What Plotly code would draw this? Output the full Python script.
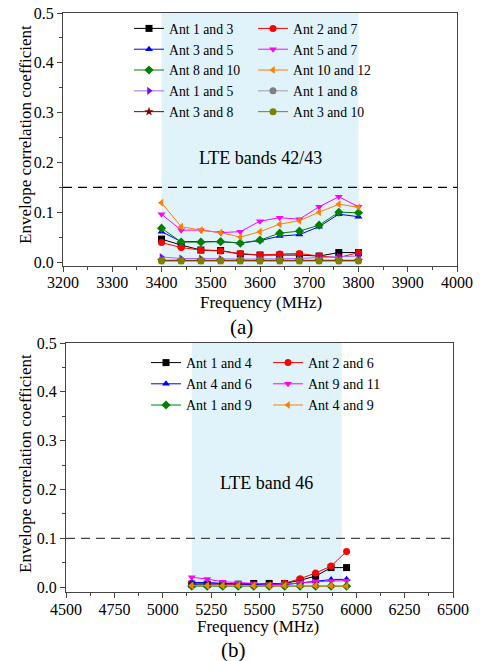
import plotly.graph_objects as go

# ---------------- data: panel (a) ----------------
freq_a = [3400, 3440, 3480, 3520, 3560, 3600, 3640, 3680, 3720, 3760, 3800]
ant_1_3 = [0.046, 0.034, 0.024, 0.023, 0.016, 0.014, 0.014, 0.014, 0.012, 0.019, 0.019]
ant_2_7 = [0.039, 0.029, 0.024, 0.022, 0.017, 0.014, 0.016, 0.017, 0.012, 0.009, 0.019]
ant_3_5 = [0.061, 0.041, 0.041, 0.041, 0.038, 0.043, 0.052, 0.055, 0.071, 0.096, 0.091]
ant_5_7 = [0.096, 0.064, 0.064, 0.059, 0.061, 0.082, 0.089, 0.086, 0.111, 0.131, 0.111]
ant_8_10 = [0.068, 0.040, 0.040, 0.041, 0.038, 0.044, 0.058, 0.062, 0.074, 0.100, 0.099]
ant_10_12 = [0.119, 0.071, 0.064, 0.059, 0.050, 0.061, 0.076, 0.083, 0.100, 0.116, 0.110]
ant_1_5 = [0.010, 0.007, 0.007, 0.006, 0.006, 0.006, 0.006, 0.007, 0.009, 0.011, 0.012]
ant_1_8 = [0.004, 0.004, 0.004, 0.004, 0.004, 0.004, 0.004, 0.004, 0.004, 0.004, 0.004]
ant_3_8 = [0.003, 0.003, 0.003, 0.003, 0.003, 0.003, 0.003, 0.003, 0.003, 0.003, 0.003]
ant_3_10 = [0.002, 0.002, 0.002, 0.002, 0.002, 0.002, 0.002, 0.002, 0.002, 0.002, 0.002]

# ---------------- data: panel (b) ----------------
freq_b = [5150, 5230, 5310, 5390, 5470, 5550, 5630, 5710, 5790, 5870, 5950]
ant_1_4 = [0.006, 0.006, 0.006, 0.006, 0.0075, 0.0075, 0.0075, 0.014, 0.0225, 0.040, 0.040]
ant_2_6 = [0.008, 0.007, 0.006, 0.005, 0.004, 0.004, 0.008, 0.017, 0.029, 0.043, 0.073]
ant_4_6 = [0.0095, 0.0095, 0.0075, 0.006, 0.005, 0.0045, 0.005, 0.009, 0.0115, 0.0155, 0.016]
ant_9_11 = [0.020, 0.0165, 0.011, 0.009, 0.0075, 0.006, 0.006, 0.009, 0.011, 0.0125, 0.013]
ant_1_9 = [0.002, 0.002, 0.002, 0.002, 0.002, 0.002, 0.002, 0.002, 0.002, 0.002, 0.002]
ant_4_9 = [0.003, 0.003, 0.003, 0.003, 0.003, 0.003, 0.003, 0.003, 0.003, 0.003, 0.002]

band_a = [3400, 3800]
band_b = [5150, 5925]
limit_a = 0.15
limit_b = 0.1

FONT = "Liberation Serif, Times New Roman, serif"

series_a = [
    ("Ant 1 and 3", ant_1_3, "#000000", "#000000", "square"),
    ("Ant 2 and 7", ant_2_7, "#ff0000", "#ff0000", "circle"),
    ("Ant 3 and 5", ant_3_5, "#0000ff", "#0000ff", "triangle-up"),
    ("Ant 5 and 7", ant_5_7, "#ff00ff", "#ff00ff", "triangle-down"),
    ("Ant 8 and 10", ant_8_10, "#008000", "#008000", "diamond"),
    ("Ant 10 and 12", ant_10_12, "#ff8000", "#ff8000", "triangle-left"),
    ("Ant 1 and 5", ant_1_5, "#a366ff", "#8000ff", "triangle-right"),
    ("Ant 1 and 8", ant_1_8, "#a0a0a0", "#808080", "circle"),
    ("Ant 3 and 8", ant_3_8, "#800000", "#800000", "star"),
    ("Ant 3 and 10", ant_3_10, "#808000", "#808000", "circle"),
]
series_b = [
    ("Ant 1 and 4", ant_1_4, "#000000", "#000000", "square"),
    ("Ant 2 and 6", ant_2_6, "#ff0000", "#ff0000", "circle"),
    ("Ant 4 and 6", ant_4_6, "#0000ff", "#0000ff", "triangle-up"),
    ("Ant 9 and 11", ant_9_11, "#ff00ff", "#ff00ff", "triangle-down"),
    ("Ant 1 and 9", ant_1_9, "#008000", "#008000", "diamond"),
    ("Ant 4 and 9", ant_4_9, "#ff8000", "#ff8000", "triangle-left"),
]

fig = go.Figure()
for i, (name, vals, lc, mc, sym) in enumerate(series_a):
    fig.add_trace(go.Scatter(x=freq_a, y=vals, name=name, mode="lines+markers",
                             line=dict(color=lc, width=1),
                             marker=dict(symbol=sym, size=7, color=mc),
                             xaxis="x", yaxis="y",
                             legend="legend" if i % 2 == 0 else "legend2"))
for i, (name, vals, lc, mc, sym) in enumerate(series_b):
    fig.add_trace(go.Scatter(x=freq_b, y=vals, name=name, mode="lines+markers",
                             line=dict(color=lc, width=1),
                             marker=dict(symbol=sym, size=7, color=mc),
                             xaxis="x2", yaxis="y2",
                             legend="legend3" if i % 2 == 0 else "legend4"))

H = 661.0
W = 480.0
axis_common = dict(showgrid=False, zeroline=False, showline=True, mirror=True,
                   linecolor="#444", linewidth=1.3, ticks="outside", ticklen=5,
                   tickwidth=1, tickcolor="#444", automargin=False,
                   tickfont=dict(family=FONT, size=16, color="#000"))


def leg(xpx, ypx, size):
    return dict(orientation="v", x=xpx / W, xanchor="left", y=1 - ypx / H, yanchor="top",
                bgcolor="rgba(0,0,0,0)", font=dict(family=FONT, size=size), tracegroupgap=0)


fig.update_layout(
    template="none",
    width=480, height=661,
    margin=dict(l=0, r=0, t=0, b=0, autoexpand=False),
    paper_bgcolor="white", plot_bgcolor="white",
    showlegend=True,
    font=dict(family=FONT, color="#000"),
    xaxis=dict(domain=[63 / W, 457 / W], range=[3200, 4000], dtick=100, anchor="y",
               minor=dict(dtick=50, ticks="outside", ticklen=3, tickcolor="#444"),
               ticklabelstandoff=-3, **axis_common),
    yaxis=dict(domain=[1 - 266 / H, 1 - 13 / H], range=[-0.008, 0.5], dtick=0.1,
               tickformat=".1f", anchor="x",
               minor=dict(dtick=0.05, ticks="outside", ticklen=3, tickcolor="#444"),
               **axis_common),
    xaxis2=dict(domain=[66 / W, 453 / W], range=[4500, 6500], dtick=250, anchor="y2",
                minor=dict(dtick=125, ticks="outside", ticklen=3, tickcolor="#444"),
                ticklabelstandoff=-2, **axis_common),
    yaxis2=dict(domain=[1 - 592 / H, 1 - 343 / H], range=[-0.01, 0.5], dtick=0.1,
                tickformat=".1f", anchor="x2",
                minor=dict(dtick=0.05, ticks="outside", ticklen=3, tickcolor="#444"),
                **axis_common),
    legend=leg(129, 13, 13.7),
    legend2=leg(253, 13, 13.7),
    legend3=leg(146, 347, 14),
    legend4=leg(268, 347, 14),
)

# shaded bands
fig.add_shape(type="rect", xref="x", yref="y domain", x0=band_a[0], x1=band_a[1], y0=0, y1=1,
              fillcolor="#e0f3fb", line=dict(width=0), layer="below")
fig.add_shape(type="rect", xref="x2", yref="y2 domain", x0=band_b[0], x1=band_b[1], y0=0, y1=1,
              fillcolor="#e0f3fb", line=dict(width=0), layer="below")
# dashed limit lines
fig.add_shape(type="line", xref="x domain", yref="y", x0=0, x1=1, y0=limit_a, y1=limit_a,
              line=dict(color="#000", width=1.2, dash="9px,6px"))
fig.add_shape(type="line", xref="x2 domain", yref="y2", x0=0, x1=1, y0=limit_b, y1=limit_b,
              line=dict(color="#444", width=1.2, dash="9px,6px"))


def txt(xpx, ypx, text, size, angle=0):
    fig.add_annotation(x=xpx / W, y=1 - ypx / H, xref="paper", yref="paper", text=text,
                       showarrow=False, xanchor="center", yanchor="middle", textangle=angle,
                       font=dict(family=FONT, size=size, color="#000"))


fig.add_annotation(x=3600, y=0.209, xref="x", yref="y", text="LTE bands 42/43", showarrow=False,
                   font=dict(family=FONT, size=18, color="#000"))
fig.add_annotation(x=5537.5, y=0.213, xref="x2", yref="y2", text="LTE band 46", showarrow=False,
                   font=dict(family=FONT, size=18, color="#000"))

txt(261, 302, "Frequency (MHz)", 17)
txt(258, 626, "Frequency (MHz)", 17)
txt(25, 135, "Envelope correlation coefficient", 17, -90)
txt(25, 464, "Envelope correlation coefficient", 17, -90)
txt(241, 327, "(a)", 21)
txt(233, 650, "(b)", 21)

fig.write_html("out.html")
